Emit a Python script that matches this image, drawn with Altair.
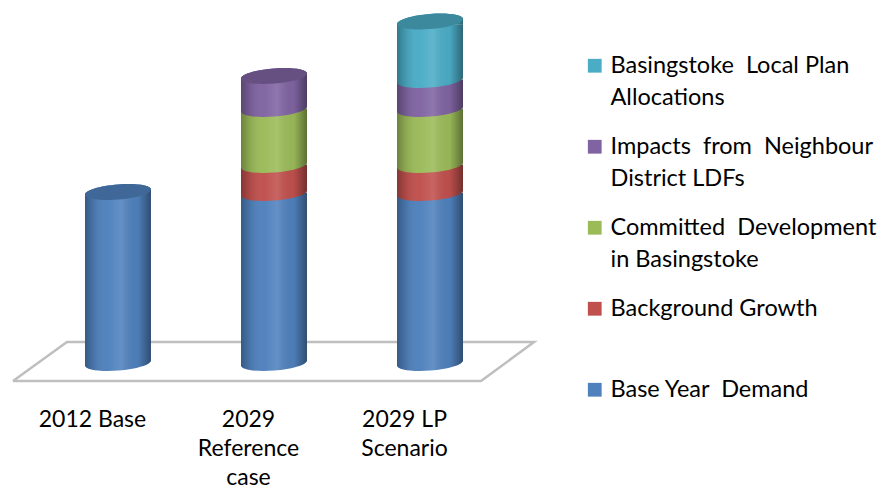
import altair as alt
import pandas as pd

# ---- data (arbitrary units, the chart has no value axis)
categories = ["2012 Base", "2029 Reference case", "2029 LP Scenario"]
category_lines = [["2012 Base"], ["2029", "Reference", "case"], ["2029 LP", "Scenario"]]
series = [
    "Base Year Demand",
    "Background Growth",
    "Committed Development in Basingstoke",
    "Impacts from Neighbour District LDFs",
    "Basingstoke Local Plan Allocations",
]
series_lines = [
    ["Base Year\u00a0 Demand", ""],
    ["Background Growth", ""],
    ["Committed\u00a0 Development", "in Basingstoke"],
    ["Impacts\u00a0 from\u00a0 Neighbour", "District LDFs"],
    ["Basingstoke\u00a0 Local Plan", "Allocations"],
]
colors = ["#4F81BD", "#C0504D", "#9BBB59", "#8064A2", "#4BACC6"]
base_year = [171, 170, 170]
background = [0, 28, 28]
committed = [0, 56, 56]
impacts = [0, 33, 29]
local_plan = [0, 0, 58.5]
values = [base_year, background, committed, impacts, local_plan]

floor_x = [-0.673, -0.327, 2.667, 2.327, -0.673]
floor_y = [-18, 21, 21, -18, -18]

HALF = 0.2115     # half a cylinder, in category units
R = 33.0          # the same in pixels
LIFT = 3          # overlap of the flat side pieces with the curved ends
FONT = "Lato"
FS_AXIS = 23
FS_LEGEND = 23.5


def curve(b=0.23, t=0.076):
    k = 0.5523
    s = lambda x, y: f"{x:.4f} {y - t * x:.4f}"
    lower = f"C {s(-1, k*b)} {s(-k, b)} {s(0, b)} C {s(k, b)} {s(1, k*b)} {s(1, 0)}"
    upper = f"C {s(-1, -k*b)} {s(-k, -b)} {s(0, -b)} C {s(k, -b)} {s(1, -k*b)} {s(1, 0)}"
    upper_back = f"C {s(1, -k*b)} {s(k, -b)} {s(0, -b)} C {s(-k, -b)} {s(-1, -k*b)} {s(-1, 0)}"
    start = f"M {s(-1, 0)}"
    lift = LIFT / R
    band = f"{start} {lower} L 1 {-lift:.4f} L -1 {-lift:.4f} Z"
    collar = f"{start} {upper} L 1 {lift:.4f} L -1 {lift:.4f} Z"
    cap = f"{start} {lower} {upper_back} Z"
    return band, collar, cap


BAND, COLLAR, CAP = curve()
SIZE = (2 * R) ** 2

# ---- tables
rows = []
tops = []
for i in range(len(categories)):
    start = 0
    last = None
    for j, name in enumerate(series):
        v = values[j][i]
        if v == 0:
            continue
        rows.append({"i": i, "series": name, "order": j, "start": start, "end": start + v})
        start += v
        last = name
    tops.append({"i": i, "series": last, "total": start})
seg = pd.DataFrame(rows)
top = pd.DataFrame(tops)
seg["x0"] = seg.i - HALF
seg["x1"] = seg.i + HALF
seg["y_low"] = seg.start + LIFT
is_top = seg.end == seg.groupby("i").end.transform("max")
seg["y_high"] = seg.end.where(~is_top, seg.end - LIFT)
top["x0"] = top.i - HALF
top["x1"] = top.i + HALF
top["y_low"] = LIFT
top["y_high"] = top.total - LIFT
top["base"] = 0
floor = pd.DataFrame({"x": floor_x, "y": floor_y, "n": range(len(floor_x))})

# ---- scales
x_scale = alt.Scale(domain=[-0.705, 4.878], nice=False, zero=False)
y_scale = alt.Scale(domain=[-21, 355], nice=False, zero=False)

cat_expr = "[" + ",".join(str(c) for c in category_lines) + "][datum.value]"
x_axis = alt.Axis(
    values=[0, 1, 2], labelExpr=cat_expr, title=None, domain=False, ticks=False, grid=False,
    labelOffset=-26, labelPadding=35, labelFont=FONT, labelFontSize=FS_AXIS, labelColor="#000000",
    labelLineHeight=29, labelBaseline="middle", labelAngle=0, labelOverlap=False, labelFlush=False,
)
X = alt.X("i:Q", scale=x_scale, axis=x_axis)
Y = alt.Y("start:Q", scale=y_scale, axis=None)

label_expr = "{" + ",".join(f"{n!r}:{l}" for n, l in zip(series, series_lines)) + "}[datum.label]"
color_plain = alt.Color(
    "series:N",
    scale=alt.Scale(domain=series[::-1], range=colors[::-1]),
    legend=None,
)
color_legend = alt.Color(
    "series:N",
    scale=alt.Scale(domain=series[::-1], range=colors[::-1]),
    legend=alt.Legend(
        title=None, orient="none", legendX=575, legendY=46, symbolType="square", symbolSize=190,
        symbolStrokeWidth=0, labelFont=FONT, labelFontSize=FS_LEGEND, labelColor="#000000", labelLimit=0,
        labelExpr=label_expr, rowPadding=24, labelOffset=4, padding=0,
    ),
)

shade = alt.LinearGradient(
    gradient="linear", x1=0, x2=1, y1=0, y2=0,
    stops=[
        alt.GradientStop(color="rgba(0,0,0,0.30)", offset=0),
        alt.GradientStop(color="rgba(0,0,0,0.12)", offset=0.12),
        alt.GradientStop(color="rgba(255,255,255,0.02)", offset=0.35),
        alt.GradientStop(color="rgba(255,255,255,0.12)", offset=0.55),
        alt.GradientStop(color="rgba(0,0,0,0.03)", offset=0.8),
        alt.GradientStop(color="rgba(0,0,0,0.40)", offset=1),
    ],
)

pt = dict(filled=True, size=SIZE, opacity=1, strokeWidth=0)

floor_line = alt.Chart(floor).mark_line(color="#BFBFBF", strokeWidth=2.5).encode(
    x=alt.X("x:Q", scale=x_scale, axis=x_axis), y=alt.Y("y:Q", scale=y_scale, axis=None), order="n:Q"
)
bodies = alt.Chart(seg).mark_rect().encode(
    x=alt.X("x0:Q", scale=x_scale, axis=x_axis), x2="x1:Q",
    y=alt.Y("y_low:Q", scale=y_scale, axis=None), y2="y_high:Q", color=color_legend,
)
bands = alt.Chart(seg).mark_point(shape=BAND, **pt).encode(x=X, y=Y, color=color_plain)
Y_total = alt.Y("total:Q", scale=y_scale, axis=None)
collars = alt.Chart(top).mark_point(shape=COLLAR, **pt).encode(x=X, y=Y_total, color=color_plain)
shade_body = alt.Chart(top).mark_rect(fill=shade).encode(
    x=alt.X("x0:Q", scale=x_scale, axis=x_axis), x2="x1:Q",
    y=alt.Y("y_low:Q", scale=y_scale, axis=None), y2="y_high:Q",
)
shade_foot = alt.Chart(top).mark_point(shape=BAND, fill=shade, **pt).encode(
    x=X, y=alt.Y("base:Q", scale=y_scale, axis=None)
)
shade_collar = alt.Chart(top).mark_point(shape=COLLAR, fill=shade, **pt).encode(x=X, y=Y_total)
caps = alt.Chart(top).mark_point(shape=CAP, **pt).encode(x=X, y=Y_total, color=color_plain)
caps_dark = alt.Chart(top).mark_point(shape=CAP, fill="#000000", filled=True, size=SIZE, opacity=0.2, strokeWidth=0).encode(
    x=X, y=Y_total
)

chart = (
    alt.layer(floor_line, bodies, bands, collars, shade_body, shade_foot, shade_collar, caps, caps_dark)
    .properties(
        width=871, height=376,
        padding={"left": 0, "top": 0, "right": 0, "bottom": 107},
        autosize=alt.AutoSizeParams(type="none"),
    )
    .configure(style={"guide-label": {"lineHeight": 32}}, background="#FFFFFF", view=alt.ViewConfig(stroke=None))
)

chart.save("out.html", embed_options={"renderer": "svg", "actions": False})
